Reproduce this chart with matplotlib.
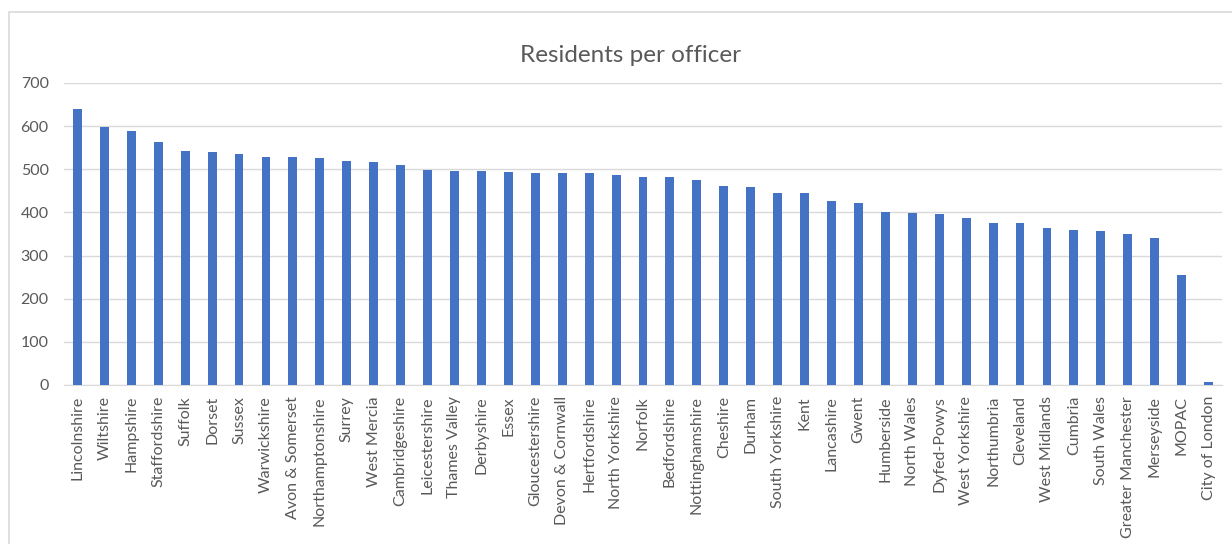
import matplotlib
matplotlib.use('Agg')
import matplotlib.pyplot as plt
import numpy as np
from matplotlib.patches import Rectangle

forces = ['Lincolnshire', 'Wiltshire', 'Hampshire', 'Staffordshire', 'Suffolk', 'Dorset',
          'Sussex', 'Warwickshire', 'Avon & Somerset', 'Northamptonshire', 'Surrey',
          'West Mercia', 'Cambridgeshire', 'Leicestershire', 'Thames Valley', 'Derbyshire',
          'Essex', 'Gloucestershire', 'Devon & Cornwall', 'Hertfordshire', 'North Yorkshire',
          'Norfolk', 'Bedfordshire', 'Nottinghamshire', 'Cheshire', 'Durham',
          'South Yorkshire', 'Kent', 'Lancashire', 'Gwent', 'Humberside', 'North Wales',
          'Dyfed-Powys', 'West Yorkshire', 'Northumbria', 'Cleveland', 'West Midlands',
          'Cumbria', 'South Wales', 'Greater Manchester', 'Merseyside', 'MOPAC',
          'City of London']
residents = [640, 598, 589, 563, 542, 540, 535, 529, 529, 527, 520, 516, 511, 499,
             497, 497, 494, 492, 492, 492, 486, 483, 483, 475, 462, 459, 446, 445, 427,
             423, 401, 399, 397, 386, 375, 375, 364, 360, 356, 351, 340, 254, 8]
y_ticks = [0, 100, 200, 300, 400, 500, 600, 700]

plt.rcParams['font.family'] = ['Lato', 'DejaVu Sans']

fig = plt.figure(figsize=(12.32, 5.44), dpi=100)
W, H = 1232, 544
ax = fig.add_axes([64 / W, 1 - 385 / H, (1222 - 64) / W, (385 - 83) / H])

# chart border
fig.patches.append(Rectangle((9 / W, -0.01), 1.2, 1 - 12 / H + 0.01,
                             transform=fig.transFigure, fill=False,
                             edgecolor='#d9d9d9', linewidth=1.2))

x = np.arange(len(forces))
ax.bar(x, residents, width=0.33, color='#4472c4', zorder=3)

ax.set_xlim(-0.5, len(forces) - 0.5)
ax.set_ylim(0, 700)
ax.set_yticks(y_ticks)
ax.set_xticks(x)
ax.set_xticklabels(forces, rotation=90)
ax.tick_params(axis='both', length=0, labelsize=11.5, labelcolor='#595959')
ax.tick_params(axis='y', pad=11)
ax.tick_params(axis='x', pad=8)
ax.grid(axis='y', color='#d9d9d9', linewidth=1, zorder=0)
for s in ['top', 'right', 'left']:
    ax.spines[s].set_visible(False)
ax.spines['bottom'].set_color('#d9d9d9')

fig.text(630 / W, 1 - 55 / H, 'Residents per officer', ha='center', va='center',
         fontsize=17.5, color='#595959')

fig.savefig('out.png', dpi=100)
